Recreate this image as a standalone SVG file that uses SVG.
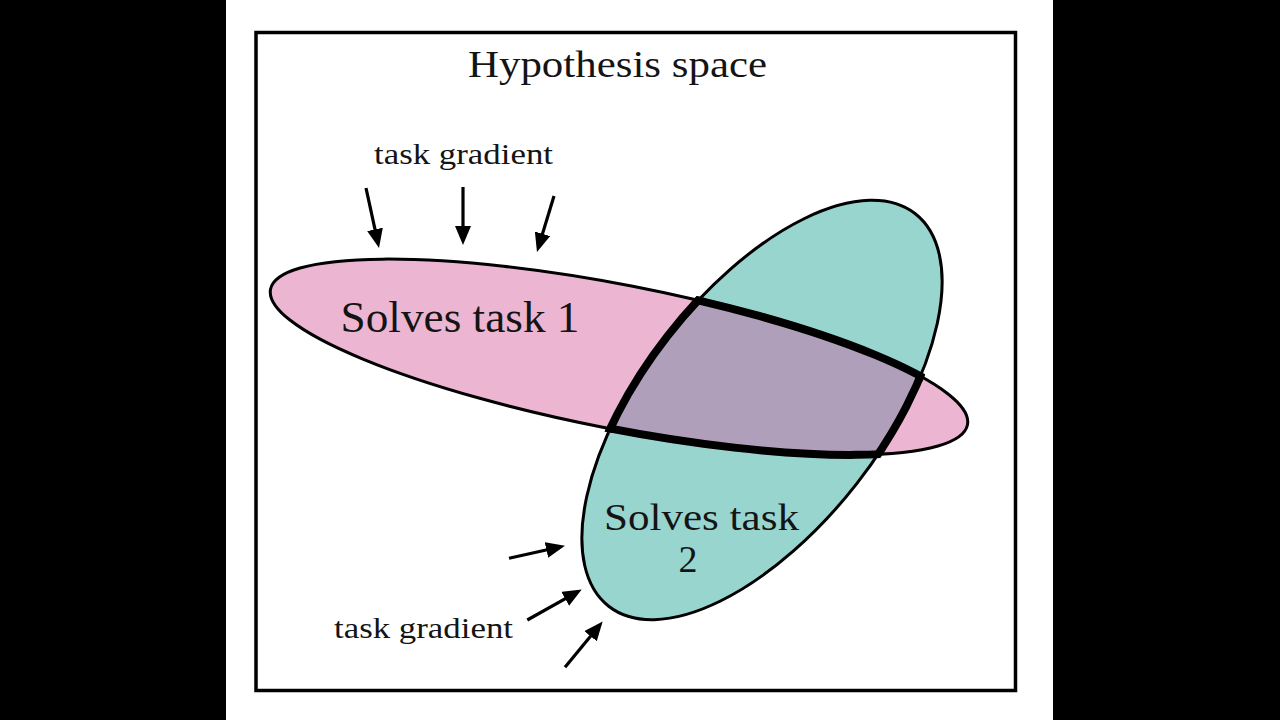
<svg xmlns="http://www.w3.org/2000/svg" width="1280" height="720" viewBox="0 0 1280 720">
  <style>
    .serif { font-family: "Liberation Serif", "Times New Roman", serif; fill: #141414; }
    .thin { stroke: #000; stroke-width: 3; }
    .thick { stroke: #000; stroke-width: 8; }
    .arrow { stroke: #000; stroke-width: 3.2; fill: none; marker-end: url(#head); }
  </style>
  <defs>
    <marker id="head" markerUnits="userSpaceOnUse" markerWidth="21" markerHeight="17" refX="9" refY="8" orient="auto">
      <path d="M0,0 L19,8 L0,16 z" fill="#000"/>
    </marker>
    <clipPath id="clipPinkBig">
      <ellipse cx="619" cy="357" rx="359" ry="76" transform="rotate(11 619 357)"/>
    </clipPath>
    <clipPath id="clipTealBig">
      <ellipse cx="762" cy="410" rx="253" ry="124" transform="rotate(-52 762 410)"/>
    </clipPath>
  </defs>

  <rect x="0" y="0" width="1280" height="720" fill="#000"/>
  <rect x="226" y="0" width="827" height="720" fill="#fff"/>

  <g id="frame">
    <rect x="256" y="32.5" width="759.5" height="658" fill="none" stroke="#000" stroke-width="3.5"/>
  </g>

  <g id="title">
    <text class="serif" x="468" y="77.3" font-size="38" textLength="299" lengthAdjust="spacingAndGlyphs">Hypothesis space</text>
  </g>

  <g id="task1">
    <ellipse class="thin" cx="619" cy="357" rx="355" ry="72" transform="rotate(11 619 357)" fill="#ecb6d3"/>
  </g>

  <g id="task2">
    <ellipse class="thin" cx="762" cy="410" rx="249" ry="120" transform="rotate(-52 762 410)" fill="#99d5cf"/>
  </g>

  <g id="intersection">
    <g clip-path="url(#clipPinkBig)">
      <ellipse class="thick" cx="762" cy="410" rx="249" ry="120" transform="rotate(-52 762 410)" fill="#b09fba"/>
    </g>
    <g clip-path="url(#clipTealBig)">
      <ellipse class="thick" cx="619" cy="357" rx="355" ry="72" transform="rotate(11 619 357)" fill="none"/>
    </g>
  </g>

  <g id="labels">
    <text class="serif" x="340.5" y="331.7" font-size="45" textLength="239" lengthAdjust="spacingAndGlyphs">Solves task 1</text>
    <text class="serif" x="604" y="529.5" font-size="38" textLength="195" lengthAdjust="spacingAndGlyphs">Solves task</text>
    <text class="serif" x="688" y="572" font-size="38" text-anchor="middle">2</text>
    <text class="serif" x="374" y="164.3" font-size="30" textLength="179" lengthAdjust="spacingAndGlyphs">task gradient</text>
    <text class="serif" x="334" y="638.3" font-size="30" textLength="179" lengthAdjust="spacingAndGlyphs">task gradient</text>
  </g>

  <g id="connectors">
    <line class="arrow" x1="366" y1="188" x2="376.9" y2="238.2"/>
    <line class="arrow" x1="463" y1="187" x2="463" y2="235"/>
    <line class="arrow" x1="554" y1="196" x2="539.9" y2="242.4"/>
    <line class="arrow" x1="509" y1="558.3" x2="555.2" y2="548"/>
    <line class="arrow" x1="527.3" y1="620" x2="573" y2="594.3"/>
    <line class="arrow" x1="565" y1="667.3" x2="596.3" y2="629.3"/>
  </g>
</svg>
